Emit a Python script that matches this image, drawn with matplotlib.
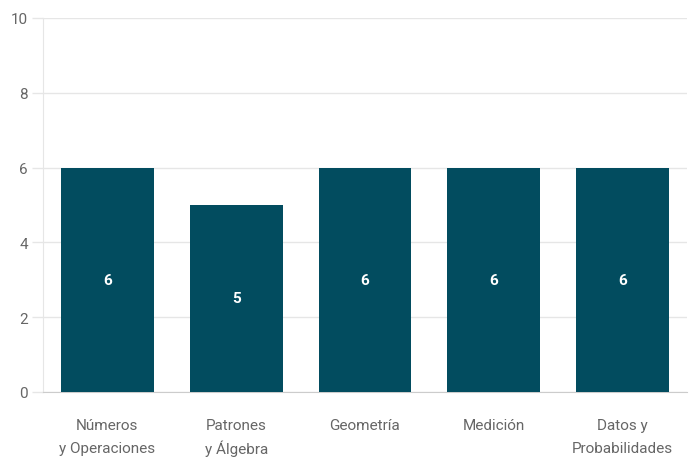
import matplotlib.pyplot as plt

# Chart data
categories = ['Números\ny Operaciones', 'Patrones\ny Álgebra', 'Geometría',
              'Medición', 'Datos y\nProbabilidades']
values = [6, 5, 6, 6, 6]
y_ticks = [0, 2, 4, 6, 8, 10]

bar_color = '#024c5f'
text_gray = '#666666'
grid_gray = '#e6e6e6'

plt.rcParams['font.family'] = ['Roboto', 'DejaVu Sans']

fig = plt.figure(figsize=(6.92, 4.64), dpi=100)
ax = fig.add_axes([43 / 692, 71 / 464, 644 / 692, 374 / 464])

x = range(len(categories))
bars = ax.bar(x, values, width=0.72, color=bar_color, zorder=3)

# value labels in the middle of each bar
for rect, v in zip(bars, values):
    ax.text(rect.get_x() + rect.get_width() / 2, v / 2, str(v),
            ha='center', va='center', color='white', fontsize=11,
            fontweight='bold', zorder=4)

ax.set_xlim(-0.5, len(categories) - 0.5)
ax.set_ylim(0, 10)
ax.set_yticks(y_ticks)
ax.set_xticks(list(x))
labels = ax.set_xticklabels(categories, fontsize=11, color=text_gray,
                            linespacing=1.8)
# the accented capital makes its line taller, so tighten that label a bit
for lab in labels:
    if 'Á' in lab.get_text():
        lab.set_linespacing(1.5)
ax.tick_params(axis='x', length=0, pad=19)
ax.tick_params(axis='y', length=8, width=1, color=grid_gray, labelsize=11,
               labelcolor=text_gray, pad=3)

ax.grid(axis='y', color=grid_gray, linewidth=1, zorder=0)
for side in ['top', 'right']:
    ax.spines[side].set_visible(False)
ax.spines['left'].set_color(grid_gray)
ax.spines['bottom'].set_color('#cccccc')

fig.savefig('out.png', dpi=100)
